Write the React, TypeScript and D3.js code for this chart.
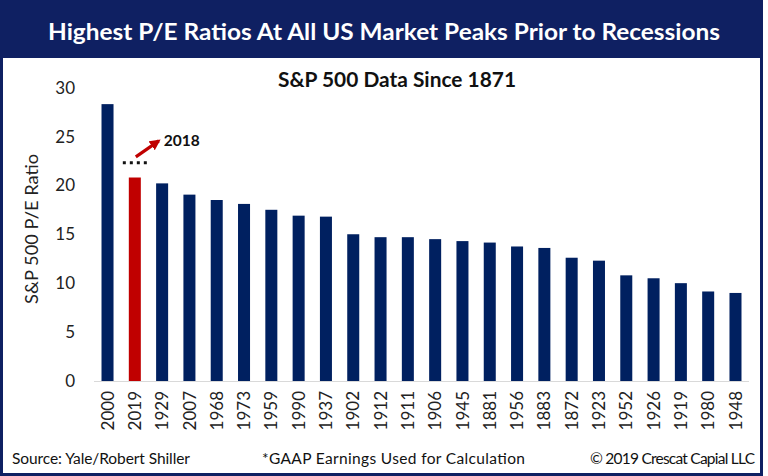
import React, { useEffect, useRef } from 'react';
import * as d3 from 'd3';

// peak years, sorted by P/E at the market top before each recession
const years = [
  '2000', '2019', '1929', '2007', '1968', '1973', '1959', '1990', '1937', '1902', '1912', '1911',
  '1906', '1945', '1881', '1956', '1883', '1872', '1923', '1952', '1926', '1919', '1980', '1948',
];
const peRatios = [
  28.3, 20.8, 20.2, 19.05, 18.5, 18.1, 17.5, 16.9, 16.8, 15.0, 14.7, 14.7,
  14.5, 14.3, 14.15, 13.75, 13.6, 12.6, 12.3, 10.8, 10.5, 10.0, 9.15, 9.0,
];
const yTicks = [0, 5, 10, 15, 20, 25, 30];
const highlightYear = '2019';
const level2018 = 22.3;

const NAVY = '#0f2062';
const BAR = '#002060';
const RED = '#c00000';
const FONT = 'Lato, "Open Sans", sans-serif';

export default function App() {
  const svgRef = useRef<SVGSVGElement>(null);

  useEffect(() => {
    document.body.style.margin = '0';
    if (!svgRef.current) return;
    const svg = d3.select(svgRef.current);
    svg.selectAll('*').remove();

    // frame + title banner
    svg.append('rect').attr('x', 0).attr('y', 0).attr('width', 763).attr('height', 476).attr('fill', NAVY);
    svg.append('rect').attr('x', 3).attr('y', 58).attr('width', 757).attr('height', 415).attr('fill', '#fff');

    svg.append('text')
      .attr('x', 384).attr('y', 40)
      .attr('text-anchor', 'middle')
      .attr('fill', '#fff')
      .style('font', `bold 22px ${FONT}`)
      .attr('textLength', 672).attr('lengthAdjust', 'spacingAndGlyphs')
      .text('Highest P/E Ratios At All US Market Peaks Prior to Recessions');

    svg.append('text')
      .attr('x', 397).attr('y', 87)
      .attr('text-anchor', 'middle')
      .attr('fill', '#111')
      .style('font', `bold 20px ${FONT}`)
      .attr('textLength', 238).attr('lengthAdjust', 'spacingAndGlyphs')
      .text('S&P 500 Data Since 1871');

    const x = d3.scaleBand<string>().domain(years).range([94, 749]).paddingInner(0.56).paddingOuter(0.275);
    const y = d3.scaleLinear().domain([0, 30]).range([381, 87.5]);

    // y axis labels
    svg.append('g').selectAll('text').data(yTicks).join('text')
      .attr('x', 75).attr('y', d => y(d)).attr('dy', '0.36em')
      .attr('text-anchor', 'end')
      .attr('fill', '#222')
      .style('font', `17px ${FONT}`)
      .text(d => d);

    svg.append('text')
      .attr('transform', 'translate(36,229) rotate(-90)')
      .attr('dy', '0.1em')
      .attr('text-anchor', 'middle')
      .attr('fill', '#222')
      .style('font', `17px ${FONT}`)
      .attr('textLength', 150).attr('lengthAdjust', 'spacingAndGlyphs')
      .text('S&P 500 P/E Ratio');

    // bars
    svg.append('g').selectAll('rect').data(years).join('rect')
      .attr('x', d => x(d)!)
      .attr('width', x.bandwidth())
      .attr('y', (d, i) => y(peRatios[i]))
      .attr('height', (d, i) => y(0) - y(peRatios[i]))
      .attr('fill', d => (d === highlightYear ? RED : BAR));

    svg.append('line')
      .attr('x1', 94).attr('x2', 749).attr('y1', y(0) + 0.5).attr('y2', y(0) + 0.5)
      .attr('stroke', '#d9d9d9').attr('stroke-width', 1);

    // x labels
    svg.append('g').selectAll('text').data(years).join('text')
      .attr('transform', d => `translate(${x(d)! + x.bandwidth() / 2},391) rotate(-90)`)
      .attr('dy', '0.36em')
      .attr('text-anchor', 'end')
      .attr('fill', '#222')
      .style('font', `17px ${FONT}`)
      .text(d => d);

    // 2018 annotation
    const cx = x(highlightYear)! + x.bandwidth() / 2;
    const ly = y(level2018);
    svg.append('line')
      .attr('x1', cx - 12).attr('x2', cx + 13).attr('y1', ly).attr('y2', ly)
      .attr('stroke', '#111').attr('stroke-width', 3).attr('stroke-dasharray', '3 4');

    const defs = svg.append('defs');
    defs.append('marker')
      .attr('id', 'arrowhead')
      .attr('viewBox', '0 0 10 10')
      .attr('refX', 8).attr('refY', 5)
      .attr('markerWidth', 3.4).attr('markerHeight', 3.4)
      .attr('orient', 'auto')
      .append('path').attr('d', 'M0,0 L10,5 L0,10 z').attr('fill', RED);

    svg.append('line')
      .attr('x1', cx + 1).attr('y1', ly - 6)
      .attr('x2', cx + 24).attr('y2', ly - 22)
      .attr('stroke', RED).attr('stroke-width', 3.2)
      .attr('marker-end', 'url(#arrowhead)');

    svg.append('text')
      .attr('x', cx + 29).attr('y', ly - 17)
      .attr('fill', '#111')
      .style('font', `bold 15px ${FONT}`)
      .attr('textLength', 36).attr('lengthAdjust', 'spacingAndGlyphs')
      .text('2018');

    // footer
    const foot = svg.append('g').attr('fill', '#111').style('font', `15.5px ${FONT}`).attr('lengthAdjust', 'spacingAndGlyphs');
    foot.append('text').attr('x', 12).attr('y', 464).attr('textLength', 178).text('Source: Yale/Robert Shiller');
    foot.append('text').attr('x', 262).attr('y', 464).attr('textLength', 263).text('*GAAP Earnings Used for Calculation');
    foot.append('text').attr('x', 590).attr('y', 464).attr('textLength', 165).text('© 2019 Crescat Capial LLC');
  }, []);

  return <svg ref={svgRef} width={768} height={476} style={{ display: 'block' }} />;
}
